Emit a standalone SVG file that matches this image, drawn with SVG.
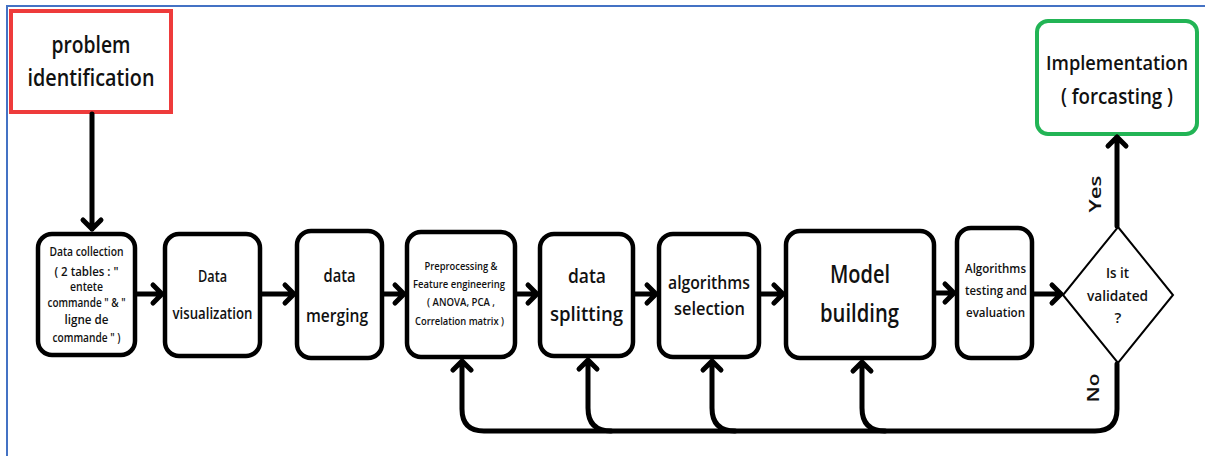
<svg xmlns="http://www.w3.org/2000/svg" width="1205" height="456" viewBox="0 0 1205 456">
<style>
  .box{fill:#fff;stroke:#000;stroke-width:4.5}
  .t{font-family:"Open Sans","Liberation Sans",sans-serif;font-weight:600;fill:#111;text-anchor:middle}
  .ln{fill:none;stroke:#000;stroke-width:5;stroke-linecap:round;stroke-linejoin:round}
</style>
<rect x="0" y="0" width="1205" height="456" fill="#fff"/>
<path d="M7 456 L7 6 L1205 6" fill="none" stroke="#4472C4" stroke-width="2"/>

<g id="problem">
  <rect x="11" y="11" width="160" height="101" fill="#fff" stroke="#EE3B3B" stroke-width="4"/>
  <text class="t" x="91" y="53" font-size="24" textLength="79" lengthAdjust="spacingAndGlyphs">problem</text>
  <text class="t" x="91" y="86" font-size="24" textLength="127" lengthAdjust="spacingAndGlyphs">identification</text>
</g>
<g id="collection">
  <rect class="box" x="38" y="234" width="97" height="121" rx="14"/>
  <text class="t" x="86.5" y="256" font-size="12" textLength="74" lengthAdjust="spacingAndGlyphs">Data collection</text>
  <text class="t" x="86.5" y="276" font-size="12" textLength="64" lengthAdjust="spacingAndGlyphs">( 2 tables : "</text>
  <text class="t" x="86.5" y="291" font-size="12" textLength="33" lengthAdjust="spacingAndGlyphs">entete</text>
  <text class="t" x="86.5" y="307" font-size="12" textLength="78" lengthAdjust="spacingAndGlyphs">commande " &amp; "</text>
  <text class="t" x="86.5" y="324" font-size="12" textLength="44" lengthAdjust="spacingAndGlyphs">ligne de</text>
  <text class="t" x="86.5" y="342" font-size="12" textLength="68" lengthAdjust="spacingAndGlyphs">commande " )</text>
</g>
<g id="visualization">
  <rect class="box" x="165" y="234" width="95" height="122" rx="14"/>
  <text class="t" x="212.5" y="282" font-size="17" textLength="29" lengthAdjust="spacingAndGlyphs">Data</text>
  <text class="t" x="212.5" y="319" font-size="17" textLength="80" lengthAdjust="spacingAndGlyphs">visualization</text>
</g>
<g id="merging">
  <rect class="box" x="297" y="231" width="85" height="127" rx="14"/>
  <text class="t" x="339.5" y="282" font-size="18" textLength="32" lengthAdjust="spacingAndGlyphs">data</text>
  <text class="t" x="337" y="322" font-size="18" textLength="62" lengthAdjust="spacingAndGlyphs">merging</text>
</g>
<g id="preprocessing">
  <rect class="box" x="407" y="232" width="108" height="125" rx="14"/>
  <text class="t" x="461" y="270" font-size="11.5" textLength="73" lengthAdjust="spacingAndGlyphs">Preprocessing &amp;</text>
  <text class="t" x="459" y="288" font-size="11.5" textLength="92" lengthAdjust="spacingAndGlyphs">Feature engineering</text>
  <text class="t" x="461" y="306" font-size="11.5" textLength="68" lengthAdjust="spacingAndGlyphs">( ANOVA, PCA ,</text>
  <text class="t" x="459.5" y="325" font-size="11.5" textLength="89" lengthAdjust="spacingAndGlyphs">Correlation matrix )</text>
</g>
<g id="splitting">
  <rect class="box" x="540" y="234" width="93" height="122" rx="14"/>
  <text class="t" x="587" y="283" font-size="20" textLength="38" lengthAdjust="spacingAndGlyphs">data</text>
  <text class="t" x="586.5" y="321" font-size="20" textLength="73" lengthAdjust="spacingAndGlyphs">splitting</text>
</g>
<g id="selection">
  <rect class="box" x="659" y="234" width="100" height="123" rx="14"/>
  <text class="t" x="709" y="289" font-size="18" textLength="82" lengthAdjust="spacingAndGlyphs">algorithms</text>
  <text class="t" x="709.5" y="315" font-size="18" textLength="71" lengthAdjust="spacingAndGlyphs">selection</text>
</g>
<g id="model">
  <rect class="box" x="786" y="231" width="148" height="127" rx="14"/>
  <text class="t" x="860" y="283" font-size="25" textLength="60" lengthAdjust="spacingAndGlyphs">Model</text>
  <text class="t" x="859.5" y="322" font-size="25" textLength="79" lengthAdjust="spacingAndGlyphs">building</text>
</g>
<g id="testing">
  <rect class="box" x="957" y="228" width="75" height="130" rx="14"/>
  <text class="t" x="995.5" y="273" font-size="13" textLength="61" lengthAdjust="spacingAndGlyphs">Algorithms</text>
  <text class="t" x="996" y="295" font-size="13" textLength="62" lengthAdjust="spacingAndGlyphs">testing and</text>
  <text class="t" x="995.5" y="317" font-size="13" textLength="59" lengthAdjust="spacingAndGlyphs">evaluation</text>
</g>
<g id="decision">
  <polygon points="1118,227 1173,295 1118,363 1063,295" fill="#fff" stroke="#000" stroke-width="2"/>
  <text class="t" x="1117.5" y="278" font-size="15" textLength="23" lengthAdjust="spacingAndGlyphs">Is it</text>
  <text class="t" x="1117.5" y="301" font-size="15" textLength="61" lengthAdjust="spacingAndGlyphs">validated</text>
  <text class="t" x="1118" y="323" font-size="15">?</text>
</g>
<g id="implementation">
  <rect x="1037" y="21" width="160" height="113" rx="11" fill="#fff" stroke="#22B455" stroke-width="4"/>
  <text class="t" x="1117" y="70" font-size="20.5" textLength="142" lengthAdjust="spacingAndGlyphs">Implementation</text>
  <text class="t" x="1117" y="104" font-size="21" textLength="112" lengthAdjust="spacingAndGlyphs">( forcasting )</text>
</g>

<g id="connectors">
  <path class="ln" d="M92 114 L92 229 M83 220 L92 229 L101 220"/>
  <path class="ln" d="M137 294 L162 294 M153 285 L162 294 L153 303"/>
  <path class="ln" d="M262 294 L294 294 M285 285 L294 294 L285 303"/>
  <path class="ln" d="M384 294 L404 294 M395 285 L404 294 L395 303"/>
  <path class="ln" d="M517 294 L537 294 M528 285 L537 294 L528 303"/>
  <path class="ln" d="M635 294 L656 294 M647 285 L656 294 L647 303"/>
  <path class="ln" d="M761 294 L783 294 M774 285 L783 294 L774 303"/>
  <path class="ln" d="M936 293 L954 293 M945 284 L954 293 L945 302"/>
  <path class="ln" d="M1034 294 L1061 294 M1052 285 L1061 294 L1052 303"/>
  <path class="ln" d="M1117 226 L1117 137 M1108 146 L1117 137 L1126 146"/>
  <path class="ln" d="M1117 364 L1117 409 Q1117 431 1095 431 L484 431 Q462 431 462 409 L462 361 M453 370 L462 361 L471 370"/>
  <path class="ln" d="M611 431 Q588 431 588 408 L588 360 M579 369 L588 360 L597 369"/>
  <path class="ln" d="M735 431 Q712 431 712 408 L712 361 M703 370 L712 361 L721 370"/>
  <path class="ln" d="M885 431 Q862 431 862 408 L862 362 M853 371 L862 362 L871 371"/>
  <text class="t" x="0" y="0" font-size="17" font-weight="700" textLength="37" lengthAdjust="spacingAndGlyphs" transform="translate(1101 194) rotate(-90)">Yes</text>
  <text class="t" x="0" y="0" font-size="17" font-weight="700" textLength="29" lengthAdjust="spacingAndGlyphs" transform="translate(1099 388) rotate(-90)">No</text>
</g>
</svg>
